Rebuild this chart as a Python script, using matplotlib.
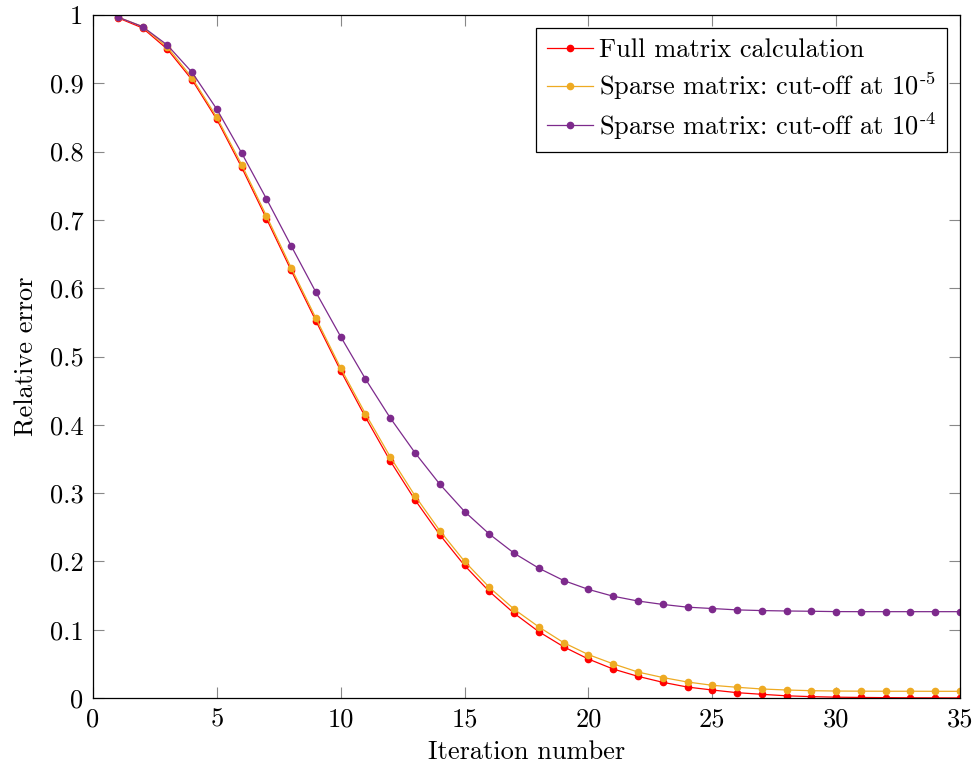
import matplotlib
matplotlib.use("Agg")
import matplotlib.pyplot as plt
import numpy as np

plt.rcParams['font.family'] = 'cmr10'
plt.rcParams['mathtext.fontset'] = 'cm'
plt.rcParams['axes.formatter.use_mathtext'] = True

iterations = np.arange(1, 36)

full = [0.996, 0.981, 0.950, 0.905, 0.847, 0.777, 0.702, 0.626, 0.552, 0.479,
        0.411, 0.347, 0.290, 0.239, 0.194, 0.156, 0.124, 0.097, 0.075, 0.057,
        0.0424, 0.0317, 0.023, 0.016, 0.0117, 0.0078, 0.0054, 0.0032, 0.002, 0.0012,
        0.0008, 0.0005, 0.0003, 0.0002, 0.0001]

sparse5 = [0.997, 0.983, 0.953, 0.908, 0.850, 0.781, 0.706, 0.630, 0.556, 0.483,
           0.416, 0.353, 0.296, 0.245, 0.200, 0.162, 0.130, 0.104, 0.081, 0.0635,
           0.050, 0.038, 0.030, 0.0234, 0.0186, 0.0157, 0.0132, 0.0117, 0.0107, 0.0102,
           0.0100, 0.0099, 0.0099, 0.0098, 0.0098]

sparse4 = [0.997, 0.983, 0.956, 0.916, 0.862, 0.798, 0.731, 0.662, 0.594, 0.529,
           0.467, 0.410, 0.359, 0.313, 0.273, 0.240, 0.212, 0.190, 0.172, 0.159,
           0.149, 0.142, 0.137, 0.133, 0.131, 0.129, 0.128, 0.1274, 0.127, 0.1265,
           0.1264, 0.1264, 0.1264, 0.1264, 0.1264]

labels = ['Full matrix calculation',
          r'Sparse matrix: cut-off at 10$^{\mathrm{\text{-}5}}$',
          r'Sparse matrix: cut-off at 10$^{\mathrm{\text{-}4}}$']
colors = ['#ff0000', '#eeaa22', '#7d2a8c']

fig = plt.figure(figsize=(9.77, 7.69), dpi=100)
ax = fig.add_axes([93/977, 1 - 698/769, (960-93)/977, (698-15)/769])

for ys, lab, c in zip([full, sparse5, sparse4], labels, colors):
    ax.plot(iterations, ys, color=c, lw=0.9, marker='o', ms=4.5, label=lab)

ax.set_xlim(0, 35)
ax.set_ylim(0, 1)
ax.set_xticks(range(0, 36, 5))
ax.set_xticklabels([str(v) for v in range(0, 36, 5)])
yt = np.arange(0, 1.01, 0.1)
ax.set_yticks(yt)
ax.set_yticklabels(['0'] + ['%.1f' % v for v in yt[1:-1]] + ['1'])
ax.tick_params(direction='in', length=8, color='#888888', labelsize=19,
               top=True, right=True, pad=7)
for s in ax.spines.values():
    s.set_linewidth(0.9)

ax.set_xlabel('Iteration number', fontsize=19, labelpad=6)
ax.set_ylabel('Relative error', fontsize=19, labelpad=8)

leg = ax.legend(loc='upper right', fontsize=19, frameon=True, fancybox=False,
                edgecolor='black', framealpha=1, borderaxespad=0.5,
                handlelength=1.75, handletextpad=0.25, labelspacing=0.3,
                borderpad=0.4)
leg.get_frame().set_linewidth(0.9)

fig.savefig('out.png', dpi=100)
